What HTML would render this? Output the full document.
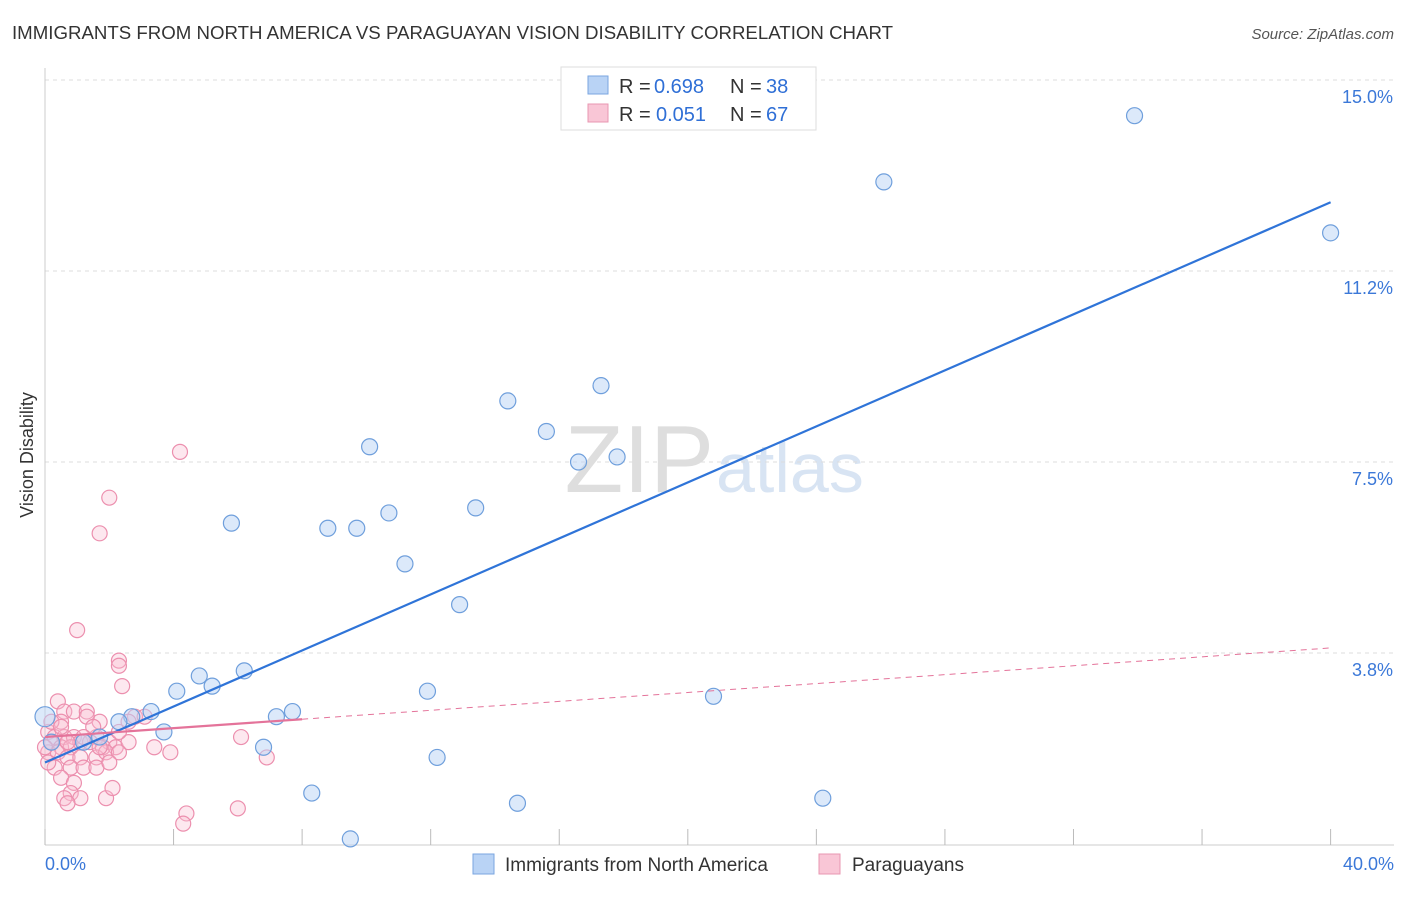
<!DOCTYPE html>
<html><head><meta charset="utf-8">
<style>
body{margin:0;background:#fff;font-family:"Liberation Sans",sans-serif;}
svg text{font-family:"Liberation Sans",sans-serif;}
</style></head>
<body>
<svg width="1406" height="892" xmlns="http://www.w3.org/2000/svg" id="chart">
<text x="12" y="39" font-size="18" fill="#333" textLength="881" lengthAdjust="spacingAndGlyphs">IMMIGRANTS FROM NORTH AMERICA VS PARAGUAYAN VISION DISABILITY CORRELATION CHART</text>
<text x="1394" y="39" font-size="15" fill="#555" text-anchor="end" font-style="italic">Source: ZipAtlas.com</text>
<text x="714" y="492" font-size="96" fill="#dedede" text-anchor="end" font-family="Liberation Serif">ZIP</text>
<text x="716" y="492" font-size="70" fill="#d8e4f3">atlas</text>
<g id="grid"></g>
<g id="axes"></g>
<g id="marks"></g>
<text transform="translate(33,455) rotate(-90)" font-size="18" fill="#333" text-anchor="middle">Vision Disability</text>
<g>
<rect x="561" y="67" width="255" height="63" fill="#fff" stroke="#ddd"/>
<rect x="588" y="76" width="20" height="18" fill="#b9d3f5" stroke="#7aa6e0"/>
<rect x="588" y="104" width="20" height="18" fill="#f9c6d6" stroke="#e897b1"/>
<text x="619" y="93" font-size="20" fill="#333">R =</text>
<text x="654" y="93" font-size="20" fill="#2f6fd6">0.698</text>
<text x="730" y="93" font-size="20" fill="#333">N =</text>
<text x="766" y="93" font-size="20" fill="#2f6fd6">38</text>
<text x="619" y="121" font-size="20" fill="#333">R =</text>
<text x="656" y="121" font-size="20" fill="#2f6fd6">0.051</text>
<text x="730" y="121" font-size="20" fill="#333">N =</text>
<text x="766" y="121" font-size="20" fill="#2f6fd6">67</text>
</g>
<g>
<rect x="473" y="854" width="21" height="20" fill="#b9d3f5" stroke="#7aa6e0"/>
<text x="505" y="871" font-size="19" fill="#333">Immigrants from North America</text>
<rect x="819" y="854" width="21" height="20" fill="#f9c6d6" stroke="#e897b1"/>
<text x="852" y="871" font-size="19" fill="#333">Paraguayans</text>
</g>
</svg>
<script>
const yTicks=[15.0,11.25,7.5,3.75];
const yTickLabels=["15.0%","11.2%","7.5%","3.8%"];
const blueX=[33.9,26.1,40.0,17.3,14.4,15.6,10.1,16.6,17.8,5.8,8.8,9.7,10.7,13.4,11.2,12.9,6.2,4.8,5.2,4.1,11.9,20.8,3.3,2.7,2.3,3.7,7.2,7.7,6.8,12.2,8.3,14.7,24.2,9.5,0.0,1.2,1.7,0.2];
const blueY=[14.3,13.0,12.0,9.0,8.7,8.1,7.8,7.5,7.6,6.3,6.2,6.2,6.5,6.6,5.5,4.7,3.4,3.3,3.1,3.0,3.0,2.9,2.6,2.5,2.4,2.2,2.5,2.6,1.9,1.7,1.0,0.8,0.9,0.1,2.5,2.0,2.1,2.0];
const pinkX=[4.2,2.0,1.7,1.0,2.3,2.3,2.4,0.4,0.6,0.9,1.3,1.7,1.3,0.5,2.8,3.1,0.1,0.3,0.6,0.9,1.6,2.0,0.2,0.5,0.8,1.1,1.4,1.8,2.2,2.6,3.4,3.9,6.1,0.1,0.4,0.7,1.1,1.6,1.9,2.3,6.9,0.3,0.8,1.2,1.6,2.0,0.5,0.9,0.8,0.6,1.1,1.9,2.1,0.7,6.0,4.4,4.3,0.2,0.5,1.5,2.3,2.6,0.7,1.2,0.0,1.7,0.1];
const pinkY=[7.7,6.8,6.1,4.2,3.6,3.5,3.1,2.8,2.6,2.6,2.6,2.4,2.5,2.4,2.5,2.5,2.2,2.1,2.1,2.1,2.1,2.0,2.0,1.9,1.9,2.0,2.0,1.9,1.9,2.0,1.9,1.8,2.1,1.8,1.8,1.7,1.7,1.7,1.8,1.8,1.7,1.5,1.5,1.5,1.5,1.6,1.3,1.2,1.0,0.9,0.9,0.9,1.1,0.8,0.7,0.6,0.4,2.4,2.3,2.3,2.2,2.4,2.0,2.1,1.9,1.9,1.6];
const blueLine=[[0,1.6],[40,12.6]];
const pinkLine=[[0,2.1],[8,2.45],[40,3.85]];
const xTickCount=11;
const X=v=>45+v*32.14, Y=v=>844-v*50.93;
const NS="http://www.w3.org/2000/svg";
function mk(tag,attrs,parent){const e=document.createElementNS(NS,tag);for(const k in attrs)e.setAttribute(k,attrs[k]);parent.appendChild(e);return e;}
const grid=document.getElementById('grid'),axes=document.getElementById('axes'),marks=document.getElementById('marks');
yTicks.forEach((t,i)=>{
 const l=mk('line',{x1:45,x2:1394,y1:Y(t),y2:Y(t),stroke:'#ddd','stroke-dasharray':'4,4'},grid);
 
 
 const tx=mk('text',{x:1393,y:Y(t)+23,'font-size':18,fill:'#3b78d8','text-anchor':'end'},axes);
 tx.textContent=yTickLabels[i];
 
 
});
mk('line',{x1:45,x2:45,y1:68,y2:845,stroke:'#ccc'},axes);
mk('line',{x1:45,x2:1394,y1:845,y2:845,stroke:'#ccc'},axes);
for(let i=0;i<xTickCount;i++){
 const tk=mk('line',{x1:X(i*4),x2:X(i*4),y1:829,y2:845,stroke:'#bbb'},axes);
 
 
}
const xl0=mk('text',{x:45,y:870,'font-size':18,fill:'#3b78d8'},axes);xl0.textContent='0.0%';


const xl1=mk('text',{x:1394,y:870,'font-size':18,fill:'#3b78d8','text-anchor':'end'},axes);xl1.textContent='40.0%';


pinkX.forEach((x,i)=>{
 const c=mk('circle',{cx:X(x),cy:Y(pinkY[i]),r:7.5,fill:'rgba(249,190,210,0.35)',stroke:'#ec8fae','stroke-width':1.2},marks);
 
 
});
blueX.forEach((x,i)=>{
 const c=mk('circle',{cx:X(x),cy:Y(blueY[i]),r:i==34?10:8,fill:'rgba(185,211,245,0.5)',stroke:'#6f9fdc','stroke-width':1.2},marks);
 
 
});
const bl=mk('line',{x1:X(blueLine[0][0]),y1:Y(blueLine[0][1]),x2:X(blueLine[1][0]),y2:Y(blueLine[1][1]),stroke:'#2f74d8','stroke-width':2.2},marks);


const pl=mk('line',{x1:X(pinkLine[0][0]),y1:Y(pinkLine[0][1]),x2:X(pinkLine[1][0]),y2:Y(pinkLine[1][1]),stroke:'#e4739a','stroke-width':2.2},marks);


const pd=mk('line',{x1:X(pinkLine[1][0]),y1:Y(pinkLine[1][1]),x2:X(pinkLine[2][0]),y2:Y(pinkLine[2][1]),stroke:'#e4739a','stroke-width':1,'stroke-dasharray':'6,5'},marks);


</script>
</body></html>
